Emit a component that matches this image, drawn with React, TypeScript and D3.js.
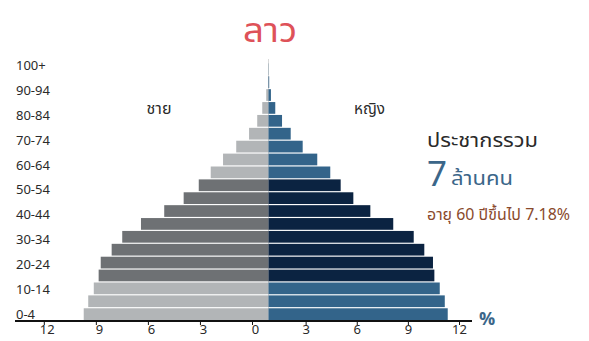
import React from "react";
import * as d3 from "d3";

// Age groups shown on the vertical axis (every other one is labelled)
const ageGroups = [
  "0-4", "5-9", "10-14", "15-19", "20-24", "25-29", "30-34", "35-39",
  "40-44", "45-49", "50-54", "55-59", "60-64", "65-69", "70-74", "75-79",
  "80-84", "85-89", "90-94", "95-99", "100+",
];

// Share of each sex's population by age group, in percent
const male = [
  10.65, 10.39, 10.07, 9.79, 9.67, 9.04, 8.43, 7.35, 6.01, 4.89,
  4.02, 3.33, 2.62, 1.86, 1.12, 0.65, 0.36, 0.13, 0.03, 0.01,
];
const female = [
  10.33, 10.16, 9.87, 9.56, 9.48, 8.98, 8.37, 7.19, 5.87, 4.89,
  4.16, 3.56, 2.81, 1.97, 1.28, 0.78, 0.39, 0.14, 0.04, 0.01,
];

// Bars whose age band is drawn in the darker shade
const darkStartAge = 15;
const darkEndAge = 55;

const xTicks = [0, 3, 6, 9, 12];

const title = "ลาว";
const maleLabel = "ชาย";
const femaleLabel = "หญิง";
const totalLabel = "ประชากรรวม";
const totalValue = "7";
const totalUnit = "ล้านคน";
const elderlyNote = "อายุ 60 ปีขึ้นไป 7.18%";

const W = 589;
const H = 341;
const FONT = "'Noto Sans Thai', 'Noto Sans', 'DejaVu Sans', sans-serif";

const COLORS = {
  maleLight: "#b2b5b7",
  maleDark: "#6e7174",
  femaleLight: "#33648a",
  femaleDark: "#0b2341",
  title: "#de5259",
  text: "#2a2a2a",
  blue: "#3b6689",
  brown: "#8a4a2c",
};

export default function App() {
  const cx = 268.5;
  const barGroups = ageGroups.slice(0, male.length);

  // bar length in px per percent
  const len = d3.scaleLinear().domain([0, 12]).range([0, 208.2]);

  // axis tick positions for each side
  const axisLeft = d3.scaleLinear().domain([0, 12]).range([252.5, 44.3]);
  const axisRight = d3.scaleLinear().domain([0, 12]).range([255, 459.5]);

  const y = d3
    .scaleBand<string>()
    .domain(barGroups)
    .range([320, 63.4])
    .paddingInner(0.09);

  const yLabel = d3.scalePoint<string>().domain(ageGroups).range([314, 65.7]);

  const startAge = (g: string) => parseInt(g, 10);
  const isDark = (g: string) =>
    startAge(g) >= darkStartAge && startAge(g) < darkEndAge;

  const axisY = 321;

  return (
    <svg
      width={W}
      height={H}
      style={{ position: "absolute", left: 0, top: 0, background: "#fff" }}
      fontFamily={FONT}
    >
      <text
        x={270}
        y={42}
        textAnchor="middle"
        fontSize={33}
        textLength={54}
        lengthAdjust="spacingAndGlyphs"
        fill={COLORS.title}
      >
        {title}
      </text>

      {/* centre guide */}
      <line
        x1={cx}
        x2={cx}
        y1={59}
        y2={axisY}
        stroke="#d9d9d9"
        strokeWidth={1}
      />

      {/* male bars */}
      {barGroups.map((g, i) => (
        <rect
          key={"m" + g}
          x={cx - len(male[i])}
          y={y(g)}
          width={len(male[i])}
          height={y.bandwidth()}
          fill={isDark(g) ? COLORS.maleDark : COLORS.maleLight}
        />
      ))}

      {/* female bars */}
      {barGroups.map((g, i) => (
        <rect
          key={"f" + g}
          x={cx}
          y={y(g)}
          width={len(female[i])}
          height={y.bandwidth()}
          fill={isDark(g) ? COLORS.femaleDark : COLORS.femaleLight}
        />
      ))}

      {/* age labels */}
      {ageGroups.map((g, i) =>
        i % 2 === 0 ? (
          <text
            key={"l" + g}
            x={16}
            y={(yLabel(g) as number) + 4.5}
            fontSize={13}
            fill={COLORS.text}
          >
            {g}
          </text>
        ) : null
      )}

      {/* x axis */}
      <line
        x1={15}
        x2={472}
        y1={axisY}
        y2={axisY}
        stroke="#111"
        strokeWidth={2}
      />
      {xTicks.map((t) => (
        <g key={"lt" + t}>
          <line
            x1={axisLeft(t)}
            x2={axisLeft(t)}
            y1={axisY}
            y2={axisY + 4}
            stroke="#111"
            strokeWidth={1}
          />
          <text
            x={axisLeft(t) + 3}
            y={334}
            textAnchor="middle"
            fontSize={13}
            fill={COLORS.text}
          >
            {t}
          </text>
        </g>
      ))}
      {xTicks
        .filter((t) => t > 0)
        .map((t) => (
          <g key={"rt" + t}>
            <line
              x1={axisRight(t)}
              x2={axisRight(t)}
              y1={axisY}
              y2={axisY + 4}
              stroke="#111"
              strokeWidth={1}
            />
            <text
              x={axisRight(t)}
              y={334}
              textAnchor="middle"
              fontSize={13}
              fill={COLORS.text}
            >
              {t}
            </text>
          </g>
        ))}
      <text
        x={487}
        y={325}
        textAnchor="middle"
        fontSize={18}
        fontWeight="bold"
        fill={COLORS.blue}
      >
        %
      </text>

      {/* sex labels */}
      <text
        x={159}
        y={114}
        textAnchor="middle"
        fontSize={15}
        textLength={25}
        lengthAdjust="spacingAndGlyphs"
        fill={COLORS.text}
      >
        {maleLabel}
      </text>
      <text
        x={369.5}
        y={114}
        textAnchor="middle"
        fontSize={15}
        textLength={31}
        lengthAdjust="spacingAndGlyphs"
        fill={COLORS.text}
      >
        {femaleLabel}
      </text>

      {/* summary */}
      <text
        x={427}
        y={147}
        fontSize={20}
        textLength={111}
        lengthAdjust="spacingAndGlyphs"
        fill={COLORS.text}
      >
        {totalLabel}
      </text>
      <text x={427} y={186} fontSize={35} fill={COLORS.blue}>
        {totalValue}
      </text>
      <text
        x={451}
        y={185}
        fontSize={20}
        textLength={62}
        lengthAdjust="spacingAndGlyphs"
        fill={COLORS.blue}
      >
        {totalUnit}
      </text>
      <text
        x={427}
        y={220}
        fontSize={15.5}
        textLength={143}
        lengthAdjust="spacingAndGlyphs"
        fill={COLORS.brown}
      >
        {elderlyNote}
      </text>
    </svg>
  );
}
